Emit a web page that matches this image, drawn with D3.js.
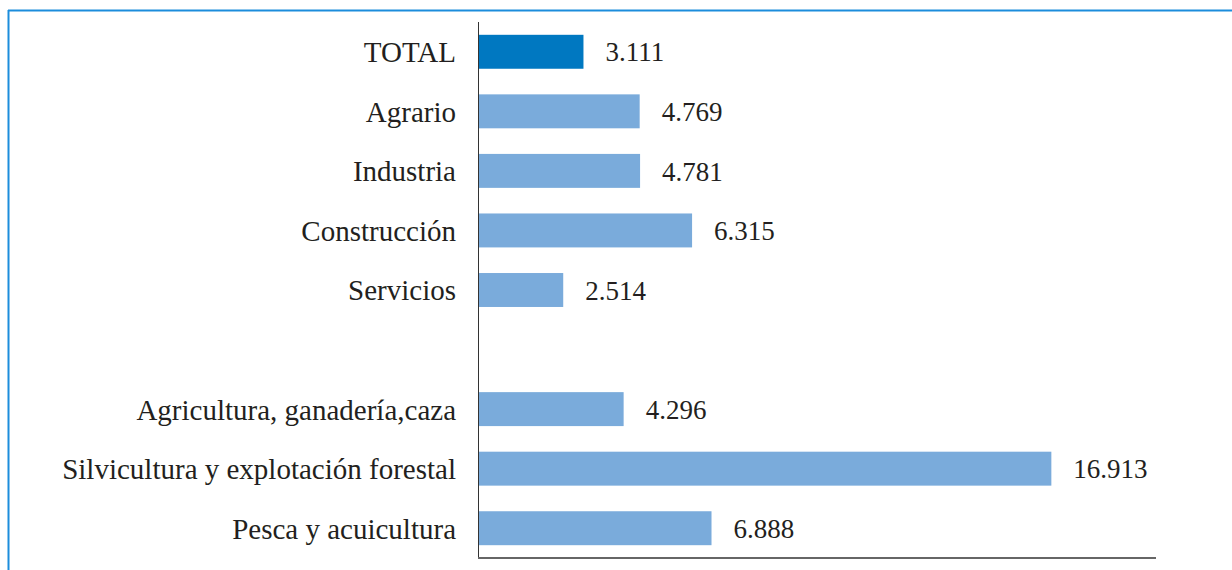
<!DOCTYPE html>
<html>
<head>
<meta charset="utf-8">
<script src="https://cdn.jsdelivr.net/npm/d3@7"></script>
<style>
  body { margin: 0; background: #fff; }
  svg { display: block; }
  .lbl { font-family: "Liberation Serif", "DejaVu Serif", serif; fill: #231f20; }
</style>
</head>
<body>
<div id="chart"></div>
<script>
// categories top to bottom; "gap" is the empty row between the two groups
const categories = [
    "TOTAL", "Agrario", "Industria", "Construcción", "Servicios",
    "gap",
    "Agricultura, ganadería,caza", "Silvicultura y explotación forestal", "Pesca y acuicultura",
];
const values = [3.111, 4.769, 4.781, 6.315, 2.514, null, 4.296, 16.913, 6.888];
const valueLabels = ["3.111", "4.769", "4.781", "6.315", "2.514", "", "4.296", "16.913", "6.888"];

const width = 1232, height = 570;
const axisX = 478, axisTop = 22, axisBottom = 558, axisRight = 1156;

const data = categories.map((c, i) => ({ label: c, value: values[i], text: valueLabels[i] }));

const svg = d3.select("#chart").append("svg")
    .attr("width", width)
    .attr("height", height);

// frame (only top and left edges are visible)
svg.append("line")
    .attr("x1", 8).attr("x2", width).attr("y1", 10.5).attr("y2", 10.5)
    .attr("stroke", "#1c8ddc").attr("stroke-width", 2);
svg.append("line")
    .attr("x1", 8.5).attr("x2", 8.5).attr("y1", 10).attr("y2", height)
    .attr("stroke", "#1c8ddc").attr("stroke-width", 2);

const x = d3.scaleLinear()
    .domain([0, 20])
    .range([axisX, axisRight]);

const y = d3.scaleBand()
    .domain(categories)
    .range([axisTop, axisBottom])
    .paddingInner(0.43)
    .paddingOuter(0.215);

const shown = data.filter(d => d.value != null);

// bars
svg.append("g")
    .selectAll("rect")
    .data(shown)
    .enter().append("rect")
      .attr("x", x(0))
      .attr("y", d => y(d.label))
      .attr("width", d => x(d.value) - x(0))
      .attr("height", y.bandwidth())
      .attr("fill", (d, i) => i === 0 ? "#0078c1" : "#7aabdb");

// value labels
svg.append("g")
    .selectAll("text")
    .data(shown)
    .enter().append("text")
      .attr("class", "lbl")
      .attr("x", d => x(d.value) + 22)
      .attr("y", d => y(d.label) + y.bandwidth() / 2)
      .attr("dy", "0.36em")
      .attr("font-size", 27)
      .text(d => d.text);

// category labels
svg.append("g")
    .selectAll("text")
    .data(shown)
    .enter().append("text")
      .attr("class", "lbl")
      .attr("x", axisX - 22)
      .attr("y", d => y(d.label) + y.bandwidth() / 2)
      .attr("dy", "0.36em")
      .attr("text-anchor", "end")
      .attr("font-size", 29)
      .text(d => d.label);

// axes
svg.append("line")
    .attr("x1", axisX + 0.5).attr("x2", axisX + 0.5)
    .attr("y1", axisTop).attr("y2", axisBottom)
    .attr("stroke", "#333").attr("stroke-width", 1);
svg.append("line")
    .attr("x1", axisX).attr("x2", axisRight)
    .attr("y1", axisBottom).attr("y2", axisBottom)
    .attr("stroke", "#666").attr("stroke-width", 2);
</script>
</body>
</html>
